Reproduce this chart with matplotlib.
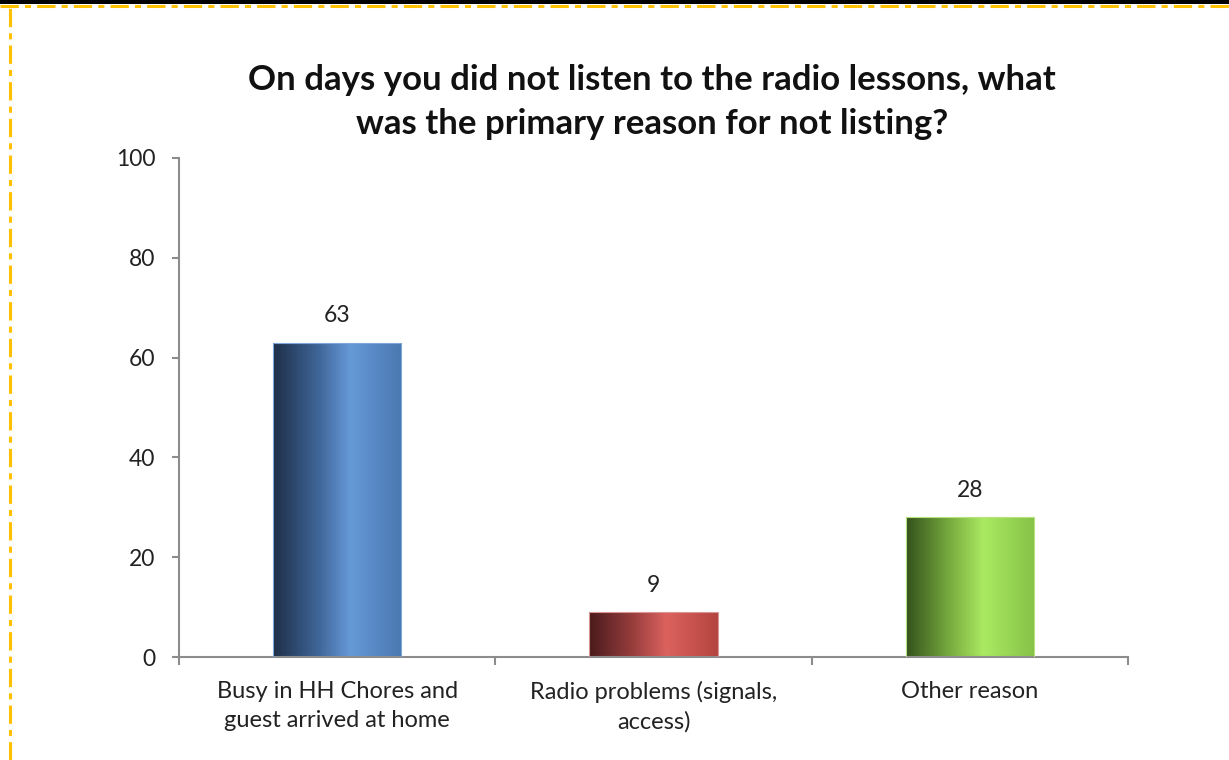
import numpy as np
import matplotlib
matplotlib.use("Agg")
import matplotlib.pyplot as plt
from matplotlib.colors import LinearSegmentedColormap
from matplotlib.patches import Rectangle
from matplotlib.lines import Line2D

categories = ["Busy in HH Chores and\nguest arrived at home",
              "Radio problems (signals,\naccess)",
              "Other reason"]
values = [63, 9, 28]
yticks = [0, 20, 40, 60, 80, 100]
title = "On days you did not listen to the radio lessons, what\nwas the primary reason for not listing?"

gradients = [
    ["#1e2f48", "#3f6598", "#6699d8", "#4a78b0"],
    ["#4a1a1c", "#9a3f3e", "#dc625e", "#b4443f"],
    ["#34521c", "#7aae40", "#aaea62", "#86c247"],
]
edge_colors = ["#7fa6d8", "#d99694", "#b5e47f"]

plt.rcParams['font.family'] = ['Lato', 'DejaVu Sans']
fig = plt.figure(figsize=(12.29, 7.6), dpi=100)

W, H = 1229, 760
ax = fig.add_axes([179 / W, (H - 657) / H, (1128 - 179) / W, (657 - 158) / H])

ax.set_xlim(-0.5, 2.5)
ax.set_ylim(0, 100)
bw = 0.405
x = np.arange(len(categories))
for i, (xi, v) in enumerate(zip(x, values)):
    rect = Rectangle((xi - bw / 2, 0), bw, v, facecolor="none",
                     edgecolor=edge_colors[i], linewidth=0.8, zorder=3)
    ax.add_patch(rect)
    cmap = LinearSegmentedColormap.from_list(
        f"g{i}", list(zip([0, 0.35, 0.6, 1.0], gradients[i])))
    grad = np.linspace(0, 1, 256).reshape(1, -1)
    im = ax.imshow(grad, cmap=cmap, aspect="auto",
                   extent=(xi - bw / 2, xi + bw / 2, 0, v), zorder=2,
                   interpolation="bilinear")
    im.set_clip_path(rect)
    ax.text(xi, v + 3.3, str(v), ha="center", va="bottom",
            fontsize=16.5, color="#222222")

ax.set_xlim(-0.5, 2.5)
ax.set_ylim(0, 100)

for s in ["top", "right"]:
    ax.spines[s].set_visible(False)
for s in ["left", "bottom"]:
    ax.spines[s].set_color("#8c8c8c")
    ax.spines[s].set_linewidth(1.5)

ax.set_yticks(yticks)
ax.set_yticklabels([str(t) for t in yticks], fontsize=16.5, color="#222222")
ax.tick_params(axis="y", length=5, width=1.5, color="#8c8c8c", pad=12)

ax.set_xticks(x)
ax.set_xticklabels(categories, fontsize=17, color="#222222", linespacing=1.5)
ax.tick_params(axis="x", which="major", length=0, pad=17)
ax.set_xticks([-0.5, 0.5, 1.5, 2.5], minor=True)
ax.tick_params(axis="x", which="minor", length=6, width=1.5, color="#8c8c8c")

fig.text(652 / W, 1 - 102 / H, title, ha="center", va="center",
         fontsize=25, fontweight="bold", color="#111111", linespacing=1.5)

# frame decoration: black strip and yellow dash-dot borders
fig.patches.append(Rectangle((0, 1 - 4 / H), 1, 4 / H, transform=fig.transFigure,
                             facecolor="black", edgecolor="none", zorder=5))
fig.lines.append(Line2D([0, 1], [1 - 5.5 / H, 1 - 5.5 / H], transform=fig.transFigure,
                        color="#ffc000", linewidth=2.2, linestyle=(0, (6, 2, 2, 2)), zorder=6))
fig.lines.append(Line2D([10 / W, 10 / W], [0, 1 - 5 / H], transform=fig.transFigure,
                        color="#ffc000", linewidth=2.2, linestyle=(0, (6, 2, 2, 2)), zorder=6))

fig.savefig("out.png", dpi=100)
